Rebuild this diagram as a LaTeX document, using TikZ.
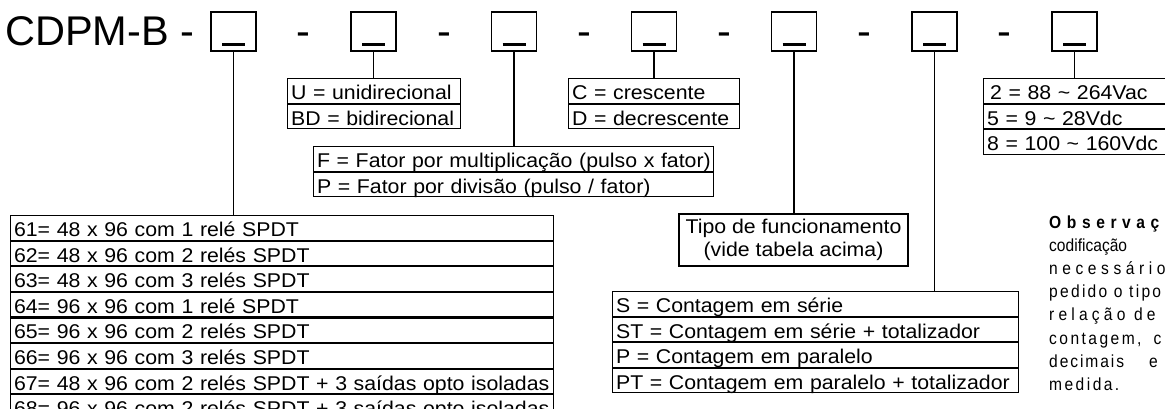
\documentclass[tikz,border=0pt]{standalone}
\usepackage{fontspec}
\setmainfont{Liberation Sans}
\newfontfamily\widefont[FakeStretch=1.07]{Liberation Sans}
\newfontfamily\notefont[Scale=1.75, FakeStretch=0.89]{Liberation Sans}
\usetikzlibrary{positioning}

\tikzset{
  codebox/.style={draw, line width=1.1pt, minimum width=45pt, minimum height=39pt, inner sep=0pt},
  codebar/.style={line width=3pt},
  link/.style={line width=1.1pt},
  optrow/.style={draw, line width=1.1pt, anchor=north west, text width=#1, align=left,
    inner xsep=3.5pt, inner ysep=2pt, text height=19pt, text depth=1.5pt,
    execute at begin node={\hbox\bgroup}, execute at end node={\egroup},
    font=\widefont\fontsize{19.9}{22}\selectfont},
  bigtext/.style={anchor=base, inner sep=0pt, font=\fontsize{41.5}{48}\selectfont},
  obstext/.style={anchor=base west, inner sep=0pt, font=\notefont},
}

\begin{document}
\begin{tikzpicture}[x=1pt, y=-1pt]
    \useasboundingbox (0,0) rectangle (1165,408);

    % code line
    \node[bigtext, anchor=base west] (prefix) at (5,45) {CDPM-B -};
    \node[codebox] (c1) at (233.5,31.5) {};
    \node[codebox] (c2) at (373.5,31.5) {};
    \node[codebox] (c3) at (514,31.5) {};
    \node[codebox] (c4) at (654,31.5) {};
    \node[codebox] (c5) at (794,31.5) {};
    \node[codebox] (c6) at (934.5,31.5) {};
    \node[codebox] (c7) at (1074.5,31.5) {};
    \node[bigtext] (s1) at (303.5,45) {-};
    \node[bigtext] (s2) at (444,45) {-};
    \node[bigtext] (s3) at (584,45) {-};
    \node[bigtext] (s4) at (724,45) {-};
    \node[bigtext] (s5) at (864,45) {-};
    \node[bigtext] (s6) at (1004.5,45) {-};
    \draw[codebar] ([xshift=-11.5pt, yshift=7pt]c1.south) -- ([xshift=11.5pt, yshift=7pt]c1.south);
    \draw[codebar] ([xshift=-11.5pt, yshift=7pt]c2.south) -- ([xshift=11.5pt, yshift=7pt]c2.south);
    \draw[codebar] ([xshift=-11.5pt, yshift=7pt]c3.south) -- ([xshift=11.5pt, yshift=7pt]c3.south);
    \draw[codebar] ([xshift=-11.5pt, yshift=7pt]c4.south) -- ([xshift=11.5pt, yshift=7pt]c4.south);
    \draw[codebar] ([xshift=-11.5pt, yshift=7pt]c5.south) -- ([xshift=11.5pt, yshift=7pt]c5.south);
    \draw[codebar] ([xshift=-11.5pt, yshift=7pt]c6.south) -- ([xshift=11.5pt, yshift=7pt]c6.south);
    \draw[codebar] ([xshift=-11.5pt, yshift=7pt]c7.south) -- ([xshift=11.5pt, yshift=7pt]c7.south);

    % models
    \node[optrow=536pt] (m1) at (10,215) {61= 48 x 96 com 1 relé SPDT};
    \node[optrow=536pt, below=0pt of m1] (m2) {62= 48 x 96 com 2 relés SPDT};
    \node[optrow=536pt, below=0pt of m2] (m3) {63= 48 x 96 com 3 relés SPDT};
    \node[optrow=536pt, below=0pt of m3] (m4) {64= 96 x 96 com 1 relé SPDT};
    \node[optrow=536pt, below=0pt of m4] (m5) {65= 96 x 96 com 2 relés SPDT};
    \node[optrow=536pt, below=0pt of m5] (m6) {66= 96 x 96 com 3 relés SPDT};
    \node[optrow=536pt, below=0pt of m6] (m7) {67= 48 x 96 com 2 relés SPDT + 3 saídas opto isoladas};
    \node[optrow=536pt, below=0pt of m7] (m8) {68= 96 x 96 com 2 relés SPDT + 3 saídas opto isoladas};

    % direction
    \node[optrow=166pt] (u1) at (287,78) {U = unidirecional};
    \node[optrow=166pt, below=0pt of u1] (u2) {BD = bidirecional};

    % factor
    \node[optrow=393pt] (f1) at (313,146) {F = Fator por multiplicação (pulso x fator)};
    \node[optrow=393pt, below=0pt of f1] (f2) {P = Fator por divisão (pulso / fator)};

    % count
    \node[optrow=164pt] (r1) at (568,78) {C = crescente};
    \node[optrow=164pt, below=0pt of r1] (r2) {D = decrescente};

    % function
    \node[draw, line width=1.1pt, minimum width=229pt, minimum height=52pt, inner sep=0pt, align=center,
      font=\widefont\fontsize{19.9}{23.5}\selectfont] (tipo) at (793.5,240) {Tipo de funcionamento\\(vide tabela acima)};

    % totalizer
    \node[optrow=399pt] (t1) at (612,291) {S = Contagem em série};
    \node[optrow=399pt, below=0pt of t1] (t2) {ST = Contagem em série + totalizador};
    \node[optrow=399pt, below=0pt of t2] (t3) {P = Contagem em paralelo};
    \node[optrow=399pt, below=0pt of t3] (t4) {PT = Contagem em paralelo + totalizador};

    % supply
    \node[optrow=300pt] (v1) at (983,78) {\kern3pt 2 = 88 \textasciitilde{} 264Vac};
    \node[optrow=300pt, below=0pt of v1] (v2) {5 = 9 \textasciitilde{} 28Vdc};
    \node[optrow=300pt, below=0pt of v2] (v3) {8 = 100 \textasciitilde{} 160Vdc};

    % links
    \draw[link] (c1.south) -- (c1.south |- m1.north);
    \draw[link] (c2.south) -- (c2.south |- u1.north);
    \draw[link] (c3.south) -- (c3.south |- f1.north);
    \draw[link] (c4.south) -- (c4.south |- r1.north);
    \draw[link] (c5.south) -- (c5.south |- tipo.north);
    \draw[link] (c6.south) -- (c6.south |- t1.north);
    \draw[link] (c7.south) -- (c7.south |- v1.north);

    % note
    \node[obstext] (n1) at (1049,228) {\bfseries\addfontfeature{LetterSpace=32}Observações:};
    \node[obstext] (n2) at (1049,251.2) {codificação};
    \node[obstext] (n3) at (1049,274.4) {\addfontfeature{LetterSpace=26}necessário};
    \node[obstext] (n4) at (1049,297.6) {\addfontfeature{LetterSpace=13}pedido o tipo};
    \node[obstext] (n5) at (1049,320.8) {\addfontfeature{LetterSpace=24}relação de};
    \node[obstext] (n6) at (1049,344) {\addfontfeature{LetterSpace=14}contagem,\hspace{12pt}c};
    \node[obstext] (n7) at (1049,367.2) {\addfontfeature{LetterSpace=11}decimais\hspace{25pt}e};
    \node[obstext] (n8) at (1049,390.4) {\addfontfeature{LetterSpace=14}medida.};
\end{tikzpicture}
\end{document}
